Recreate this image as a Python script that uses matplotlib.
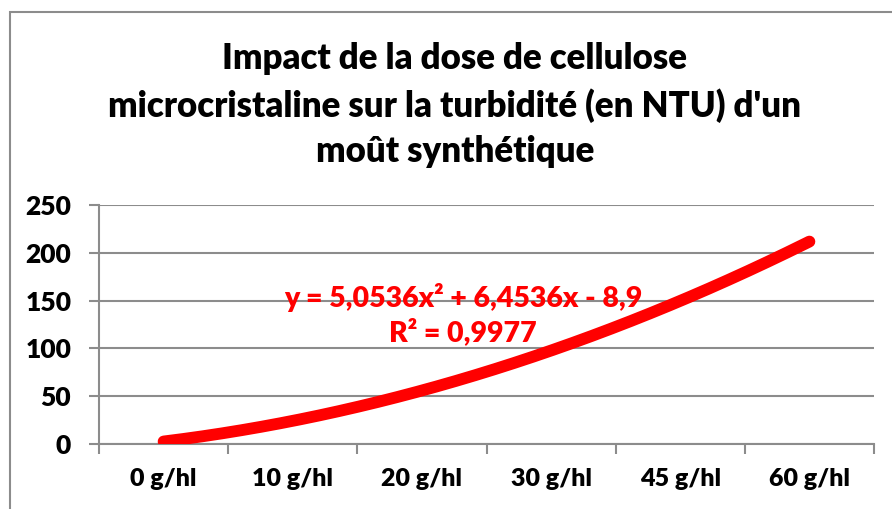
import numpy as np
import matplotlib.pyplot as plt
from matplotlib.patches import Rectangle

# doses (category labels)
doses = ["0 g/hl", "10 g/hl", "20 g/hl", "30 g/hl", "45 g/hl", "60 g/hl"]
# polynomial trendline shown on the chart (y = a x^2 + b x + c)
trend_coefs = [5.0536, 6.4536, -8.9]
r2 = "0,9977"
y_ticks = [0, 50, 100, 150, 200, 250]

title = "Impact de la dose de cellulose\nmicrocristaline sur la turbidité (en NTU) d'un\nmoût synthétique"

plt.rcParams["font.family"] = ["Lato", "DejaVu Sans"]

fig = plt.figure(figsize=(8.92, 5.09), dpi=100)

# chart border like Excel
fig.patches.append(
    Rectangle((10 / 892, -0.1), 1.2, 1 - 12 / 509 + 0.1,
              transform=fig.transFigure, fill=False,
              edgecolor="#8c8c8c", linewidth=1.5)
)

ax = fig.add_axes([99 / 892, 65 / 509, 775 / 892, 239 / 509])

x = np.arange(1, len(doses) + 1)
xs = np.linspace(x[0], x[-1], 200)
ax.plot(xs, np.polyval(trend_coefs, xs), color="#ff0000",
        linewidth=8.5, solid_capstyle="round", zorder=3)

ax.set_xlim(0.5, len(doses) + 0.5)
ax.set_ylim(0, 250)
ax.set_yticks(y_ticks)
ax.set_yticklabels([str(v) for v in y_ticks], fontsize=19, fontweight="heavy")

ax.set_xticks(np.arange(0.5, len(doses) + 1, 1))
ax.set_xticklabels([])
ax.set_xticks(x, minor=True)
ax.set_xticklabels(doses, minor=True, fontsize=18, fontweight="heavy")
ax.tick_params(axis="x", which="major", length=7, width=1.5, color="#8c8c8c")
ax.tick_params(axis="x", which="minor", length=0, pad=17)
ax.tick_params(axis="y", length=7, width=1.5, color="#8c8c8c", pad=13)

ax.grid(axis="y", color="#8c8c8c", linewidth=1.5)
ax.set_axisbelow(True)
for s in ["top", "right"]:
    ax.spines[s].set_visible(False)
for s in ["left", "bottom"]:
    ax.spines[s].set_color("#8c8c8c")
    ax.spines[s].set_linewidth(1.5)

a, b, c = trend_coefs
eq = "y = {}x² + {}x - {}".format(str(a).replace(".", ","), str(b).replace(".", ","),
                                  str(-c).replace(".", ","))
ax.text(3.32, 153, eq, color="#ff0000", fontsize=20.5, fontweight="heavy",
        ha="center", va="center", zorder=4)
ax.text(3.32, 117, "R² = " + r2, color="#ff0000", fontsize=20.5, fontweight="heavy",
        ha="center", va="center", zorder=4)

fig.text(455 / 892, 1 - 105 / 509, title, ha="center", va="center",
         fontsize=25, fontweight="heavy", linespacing=1.45)

fig.savefig("out.png", dpi=100)
